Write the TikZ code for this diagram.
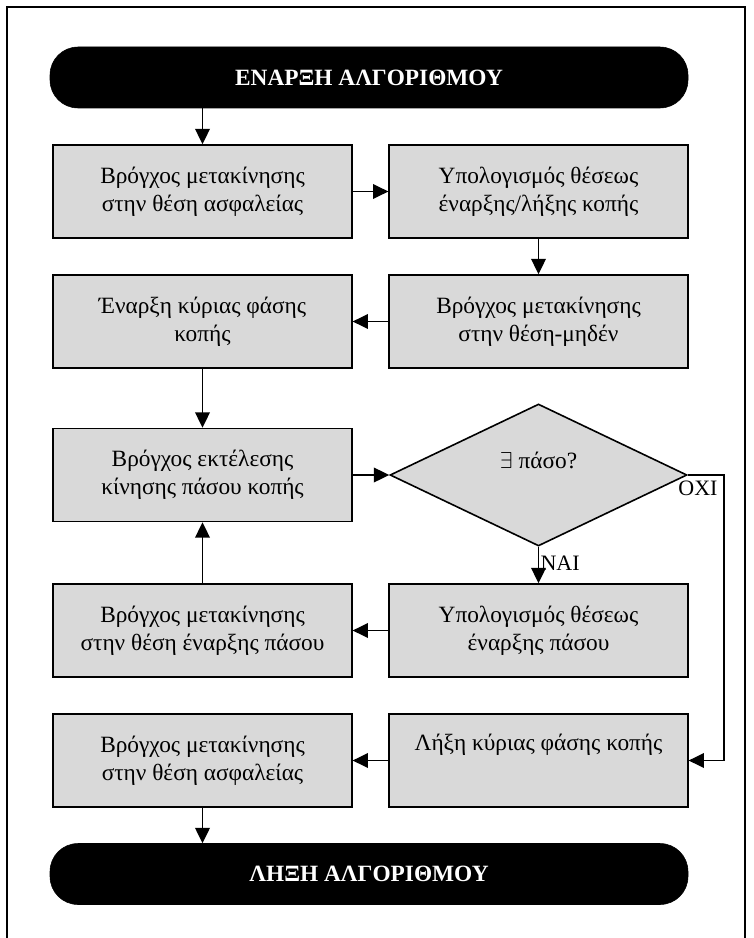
\documentclass[tikz,border=0pt]{standalone}
\usepackage{fontspec}
\setmainfont{Liberation Serif}
\usetikzlibrary{shapes.geometric,arrows.meta}
\definecolor{boxgray}{HTML}{D9D9D9}

\tikzset{
	stepbox/.style={draw, line width=1.2pt, fill=boxgray, minimum width=224pt, minimum height=69.75pt, align=center, font=\fontsize{17.5}{21}\selectfont},
	terminal/.style={draw, fill=black, rounded corners=21pt, minimum width=478.5pt, minimum height=45.75pt, text=white, font=\fontsize{17.5}{20}\selectfont\bfseries},
	decision/.style={diamond, draw, line width=1.2pt, fill=boxgray, minimum width=222.75pt, minimum height=106.5pt, font=\fontsize{17.5}{20}\selectfont},
	flow/.style={line width=1.1pt, -{Triangle[length=11.5pt,width=11pt]}},
	answer/.style={font=\fontsize{16.5}{20}\selectfont, inner sep=1pt},
}

\begin{document}
\begin{tikzpicture}[x=0.75pt, y=-0.75pt]
	\useasboundingbox (0,0) rectangle (753,938);
	\draw[line width=1.5pt] (7,7) rectangle (745,950);

	% start / end
	\node[terminal] (start) at (369,77.5) {ΕΝΑΡΞΗ ΑΛΓΟΡΙΘΜΟΥ};
	\node[terminal] (end) at (369,874) {ΛΗΞΗ ΑΛΓΟΡΙΘΜΟΥ};

	% steps
	\node[stepbox] (safe1) at (202.5,191.5) {Βρόγχος μετακίνησης\\στην θέση ασφαλείας};
	\node[stepbox] (calc1) at (538.5,191.5) {Υπολογισμός θέσεως\\έναρξης/λήξης κοπής};
	\node[stepbox] (mainon) at (202.5,321.5) {Έναρξη κύριας φάσης\\κοπής};
	\node[stepbox] (zero) at (538.5,321.5) {Βρόγχος μετακίνησης\\στην θέση-μηδέν};
	\node[stepbox] (pass) at (202.5,475) {Βρόγχος εκτέλεσης\\κίνησης πάσου κοπής};
	\node[decision, text depth=22pt] (dec) at (538.5,475) {$\exists$ πάσο?};
	\node[stepbox] (calc2) at (538.5,630.5) {Υπολογισμός θέσεως\\έναρξης πάσου};
	\node[stepbox] (move) at (202.5,630.5) {Βρόγχος μετακίνησης\\στην θέση έναρξης πάσου};
	\node[stepbox] (safe2) at (202.5,760.5) {Βρόγχος μετακίνησης\\στην θέση ασφαλείας};
	\node[stepbox, text depth=28pt] (mainoff) at (538.5,760.5) {Λήξη κύριας φάσης κοπής};

	% connectors
	\draw[flow] (start.south -| safe1.north) -- (safe1.north);
	\draw[flow] (safe1) -- (calc1);
	\draw[flow] (calc1) -- (zero);
	\draw[flow] (zero) -- (mainon);
	\draw[flow] (mainon) -- (pass);
	\draw[flow] (pass) -- (dec);
	\draw[flow] (dec.south) -- (calc2.north) node[answer, pos=0.45, anchor=west] {ΝΑΙ};
	\draw[flow] (calc2) -- (move);
	\draw[flow] (move) -- (pass);
	\coordinate (oxi) at (724,475);
	\draw[flow] (dec.east) -- (oxi) |- (mainoff.east);
	\node[answer, anchor=north] (no) at (698,479) {ΟΧΙ};
	\draw[flow] (mainoff) -- (safe2);
	\draw[flow] (safe2.south) -- (safe2.south |- end.north);
\end{tikzpicture}
\end{document}
